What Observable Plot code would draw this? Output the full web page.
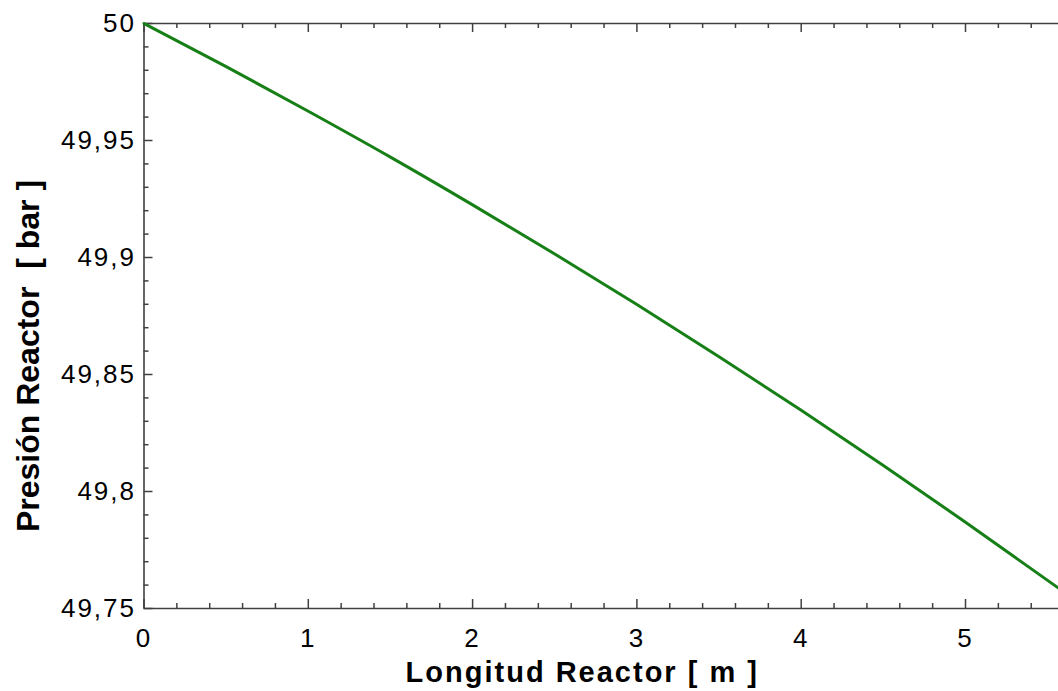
<!DOCTYPE html>
<html>
<head>
<meta charset="utf-8">
<script src="https://cdn.jsdelivr.net/npm/d3@7"></script>
<script src="https://cdn.jsdelivr.net/npm/@observablehq/plot@0.6"></script>
<style>
  html, body { margin: 0; padding: 0; background: #fff; }
  #chart svg { display: block; }
  #chart g[aria-label="y-axis tick label"] text,
  #chart g[aria-label="x-axis tick label"] text { letter-spacing: 2px; }
  #chart g.xtitle text { letter-spacing: 2px; }
</style>
</head>
<body>
<div id="chart"></div>
<script>
// Data
const lengthM = [0, 0.5, 1, 1.5, 2, 2.5, 3, 3.5, 4, 4.5, 5, 5.566];
const pressureBar = [50, 49.9816, 49.9625, 49.9429, 49.9225, 49.9015, 49.8799, 49.8576, 49.8347, 49.8111, 49.7869, 49.7587];

// Axis ticks
const xMajorTicks = [0, 1, 2, 3, 4, 5];
const xMinorTicks = [0.2, 0.4, 0.6, 0.8, 1.2, 1.4, 1.6, 1.8, 2.2, 2.4, 2.6, 2.8, 3.2, 3.4, 3.6, 3.8, 4.2, 4.4, 4.6, 4.8, 5.2, 5.4];
const yMajorTicks = [49.75, 49.8, 49.85, 49.9, 49.95, 50];
const yMinorTicks = [49.76, 49.77, 49.78, 49.79, 49.81, 49.82, 49.83, 49.84, 49.86, 49.87, 49.88, 49.89, 49.91, 49.92, 49.93, 49.94, 49.96, 49.97, 49.98, 49.99];

const xTitle = "Longitud Reactor [ m ]";
const yTitle = "Presión Reactor  [ bar ]";

const data = lengthM.map((x, i) => ({x, y: pressureBar[i]}));

const W = 1058, H = 691;
const mL = 143.5, mR = 0, mT = 23, mB = 83;
const plotW = W - mL - mR, plotH = H - mT - mB;
const axisColor = "#404040";
const fmt = d => String(d).replace(".", ",");

const chart = Plot.plot({
  width: W,
  height: H,
  marginLeft: mL,
  marginRight: mR,
  marginTop: mT,
  marginBottom: mB,
  style: {fontFamily: "'Liberation Sans', Arial, sans-serif", fontSize: "26px", color: "#000", background: "#fff", overflow: "visible"},
  x: {domain: [0, 5.566]},
  y: {domain: [49.75, 50]},
  marks: [
    // tick labels
    Plot.axisX({ticks: xMajorTicks, tickSize: 0, tickPadding: 20, tickFormat: fmt, label: null, fontSize: 26, fill: "#000"}),
    Plot.axisY({ticks: yMajorTicks, tickSize: 0, tickPadding: 8, tickFormat: fmt, label: null, fontSize: 26, fill: "#000"}),
    // inward tick marks: bottom
    Plot.tickX(xMajorTicks, {x: d => d, insetTop: plotH - 9, stroke: axisColor, strokeWidth: 1.5}),
    Plot.tickX(xMinorTicks, {x: d => d, insetTop: plotH - 5, stroke: axisColor, strokeWidth: 1.5}),
    // inward tick marks: top
    Plot.tickX(xMajorTicks, {x: d => d, insetBottom: plotH - 9, stroke: axisColor, strokeWidth: 1.5}),
    Plot.tickX(xMinorTicks, {x: d => d, insetBottom: plotH - 5, stroke: axisColor, strokeWidth: 1.5}),
    // inward tick marks: left
    Plot.tickY(yMajorTicks, {y: d => d, insetRight: plotW - 9, stroke: axisColor, strokeWidth: 1.5}),
    Plot.tickY(yMinorTicks, {y: d => d, insetRight: plotW - 5, stroke: axisColor, strokeWidth: 1.5}),
    // frame lines (left, bottom, top)
    Plot.ruleY([49.75, 50], {stroke: axisColor, strokeWidth: 1.6}),
    Plot.ruleX([0], {stroke: axisColor, strokeWidth: 1.6}),
    // data curve
    Plot.line(data, {x: "x", y: "y", stroke: "#167f16", strokeWidth: 3, curve: "monotone-x"}),
    // axis titles
    Plot.text([xTitle], {text: d => d, frameAnchor: "bottom", textAnchor: "middle", dx: -19, dy: 73, fontSize: 29, fontWeight: "bold", fill: "#000", className: "xtitle"}),
    Plot.text([yTitle], {text: d => d, frameAnchor: "left", textAnchor: "middle", lineAnchor: "middle", rotate: -90, dx: -115, dy: 40, fontSize: 32, fontWeight: "bold", fill: "#000"})
  ]
});

document.getElementById("chart").appendChild(chart);
</script>
</body>
</html>
